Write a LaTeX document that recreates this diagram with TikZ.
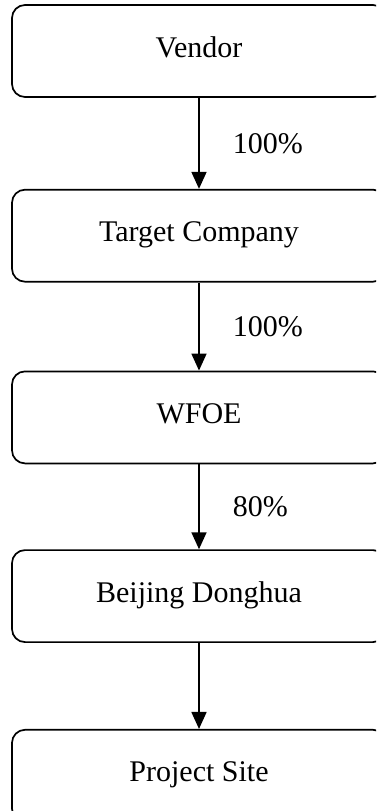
\documentclass[tikz,border=0pt]{standalone}
\usepackage{fontspec}
\setmainfont{Liberation Serif}
\usetikzlibrary{positioning,arrows.meta}
\tikzstyle{entity}=[rectangle, rounded corners=13pt, draw=black, line width=1.7pt, minimum width=374pt, minimum height=92pt, text height=21pt, text depth=9pt, inner sep=0pt, font=\fontsize{30}{36}\selectfont]
\tikzstyle{share}=[font=\fontsize{30}{36}\selectfont, inner sep=0pt, anchor=west, xshift=33pt]
\tikzstyle{own}=[-{Triangle[width=15pt,length=17pt]}, line width=1.8pt]

\begin{document}
\begin{tikzpicture}[x=1pt, y=1pt]
	\clip (0,0) rectangle (376,-811);

	\node[entity](vendor) at (199,-51){Vendor};
	\node[entity, below=91pt of vendor](target){Target Company};
	\node[entity, below=88pt of target](wfoe){WFOE};
	\node[entity, below=85pt of wfoe](donghua){Beijing Donghua};
	\node[entity, below=86pt of donghua](site){Project Site};

	\draw[own] (vendor) -- (target) node[share, midway]{100\%};
	\draw[own] (target) -- (wfoe) node[share, midway]{100\%};
	\draw[own] (wfoe) -- (donghua) node[share, midway]{80\%};
	\draw[own] (donghua) -- (site);

\end{tikzpicture}
\end{document}
